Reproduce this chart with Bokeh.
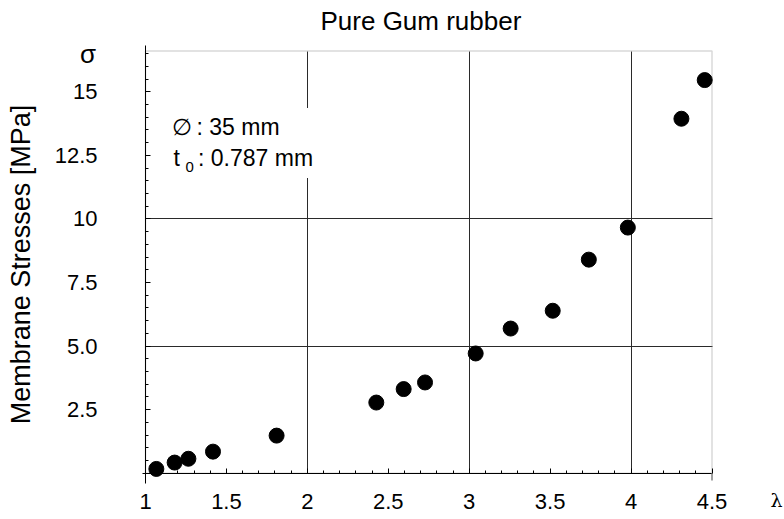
import numpy as np
from bokeh.plotting import figure
from bokeh.models import (FixedTicker, Label, BoxAnnotation, Range1d, Arrow, Grid)
from bokeh.embed import file_html
from bokeh.resources import INLINE

# ---- data ----
stretch = [1.067, 1.18, 1.265, 1.417, 1.81, 2.426, 2.595, 2.727, 3.04,
           3.256, 3.516, 3.739, 3.98, 4.311, 4.455]
stress = [0.17, 0.42, 0.57, 0.85, 1.48, 2.78, 3.31, 3.57, 4.71,
          5.69, 6.39, 8.40, 9.66, 13.94, 15.46]

x_ticks = [1, 1.5, 2, 2.5, 3, 3.5, 4, 4.5]
x_tick_labels = ["1", "1.5", "2", "2.5", "3", "3.5", "4", "4.5"]
y_ticks = [0, 2.5, 5, 7.5, 10, 12.5, 15]
y_tick_labels = ["", "2.5", "5.0", "7.5", "10", "12.5", "15"]
x_grid = [2, 3, 4]
y_grid = [5, 10]

title_text = "Pure Gum rubber"
y_title = "Membrane Stresses [MPa]"
x_symbol = "\u03bb"
y_symbol = "\u03c3"
note_d_sym = "\u2205"
note_d_val = ": 35 mm"
note_t_sym = "t"
note_t_sub = "0"
note_t_val = ": 0.787 mm"

FONT = "Liberation Sans"

# ---- layout (pixels of the 784x519 canvas) ----
W, H = 784, 519
X_LO, X_HI = 1.0, 4.5
Y_LO, Y_HI = 0.0, 16.6
PX_XLO, PX_XHI = 145.0, 711.5     # where x = 1 and x = 4.5 sit
PX_YLO, PX_YHI = 472.7, 50.0      # where y = 0 and y = 16.6 sit
TITLE_H = 38.4                    # height of the title panel

kx = (PX_XHI - PX_XLO) / (X_HI - X_LO)
ky = (PX_YLO - PX_YHI) / (Y_HI - Y_LO)


def dx(px):
    return X_LO + (px - PX_XLO) / kx


def dy(py):
    return Y_LO + (PX_YLO - py) / ky


x_minor = [round(v, 2) for v in np.arange(1.0, 4.51, 0.1)]
y_minor = [round(v, 2) for v in np.arange(0.0, 16.6, 0.5)]

p = figure(width=W, height=H,
           x_range=Range1d(dx(0), dx(W)), y_range=Range1d(dy(H), dy(TITLE_H)),
           output_backend="svg", toolbar_location=None, min_border=0)
p.outline_line_color = None
p.background_fill_color = "white"

p.title.text = title_text
p.title.align = "left"
p.title.offset = 320
p.title.standoff = 7.4
p.title.text_font = FONT
p.title.text_font_size = "26px"
p.title.text_font_style = "normal"
p.title.text_color = "black"

for ax in (p.xaxis[0], p.yaxis[0]):
    ax.major_tick_in = 5
    ax.major_tick_out = 0
    ax.minor_tick_in = 3
    ax.minor_tick_out = 0
    ax.axis_line_color = "black"
    ax.major_tick_line_color = "black"
    ax.minor_tick_line_color = "black"
    ax.major_label_text_font = FONT
    ax.major_label_text_font_size = "22px"
    ax.major_label_text_color = "black"

xa = p.xaxis[0]
xa.fixed_location = 0
xa.bounds = (dx(141.5), X_HI)
xa.ticker = FixedTicker(ticks=x_ticks, minor_ticks=x_minor)
xa.major_label_overrides = dict(zip(x_ticks, x_tick_labels))
xa.major_label_standoff = 21

ya = p.yaxis[0]
ya.fixed_location = 1
ya.bounds = (dy(482.7), dy(44))
ya.ticker = FixedTicker(ticks=y_ticks, minor_ticks=y_minor)
ya.major_label_overrides = dict(zip(y_ticks, y_tick_labels))
ya.major_label_standoff = 48
ya.axis_label = y_title
ya.axis_label_text_font = FONT
ya.axis_label_text_font_size = "27px"
ya.axis_label_text_font_style = "normal"
ya.axis_label_text_color = "black"
ya.axis_label_standoff = 16

p.xgrid.ticker = FixedTicker(ticks=x_grid)
p.ygrid.ticker = FixedTicker(ticks=y_grid)
p.grid.grid_line_color = "#2a2a2a"
p.grid.grid_line_width = 1
if "cross_bounds" in Grid.properties():
    p.xgrid.cross_bounds = (Y_LO, Y_HI)
    p.ygrid.cross_bounds = (X_LO, X_HI)
else:
    for l, r, b, t in [(X_HI + 0.01, dx(W), dy(H), dy(0)),
                       (dx(0), dx(W), dy(H), Y_LO - 0.01),
                       (dx(0), dx(W), Y_HI + 0.01, dy(0))]:
        p.add_layout(BoxAnnotation(left=l, right=r, bottom=b, top=t, fill_color="white",
                                   fill_alpha=1.0, line_alpha=0.0, level="underlay"))

# plot border (top and right edges show; left/bottom lie under the axes)
p.add_layout(BoxAnnotation(left=X_LO, right=X_HI, bottom=Y_LO, top=Y_HI,
                           fill_alpha=0.0, line_color="#808080", line_width=1.5,
                           level="underlay"))
p.add_layout(Arrow(end=None, x_start=X_HI, y_start=dy(480), x_end=X_HI, y_end=Y_LO,
                   line_color="#808080", line_width=1.5))

p.scatter(x=stretch, y=stress, size=15, fill_color="black", line_color="black")

# axis symbols
p.add_layout(Label(x=dx(87.5), y=dy(52.5), text=y_symbol, text_align="center",
                   text_baseline="alphabetic", text_font=FONT,
                   text_font_size="26px", text_color="black"))
p.add_layout(Label(x=dx(770), y=dy(499), text=x_symbol, text_align="left",
                   text_baseline="alphabetic", text_font="DejaVu Serif",
                   text_font_size="19px", text_color="black"))

# annotation box
p.add_layout(BoxAnnotation(left=dx(165), right=dx(325), bottom=dy(177), top=dy(107),
                           fill_color="white", fill_alpha=1.0, line_alpha=0.0))
notes = [(note_d_sym, 171, 126, "23px"), (note_d_val, 196, 126, "23px"),
         (note_t_sym, 173, 157, "23px"), (note_t_sub, 185, 165.7, "15px"),
         (note_t_val, 197.5, 157, "23px")]
for txt, px, py, fs in notes:
    p.add_layout(Label(x=dx(px), y=dy(py), text=txt, text_align="left",
                       text_baseline="alphabetic", text_font=FONT,
                       text_font_size=fs, text_color="black"))

open("out.html", "w").write(file_html(p, INLINE))
